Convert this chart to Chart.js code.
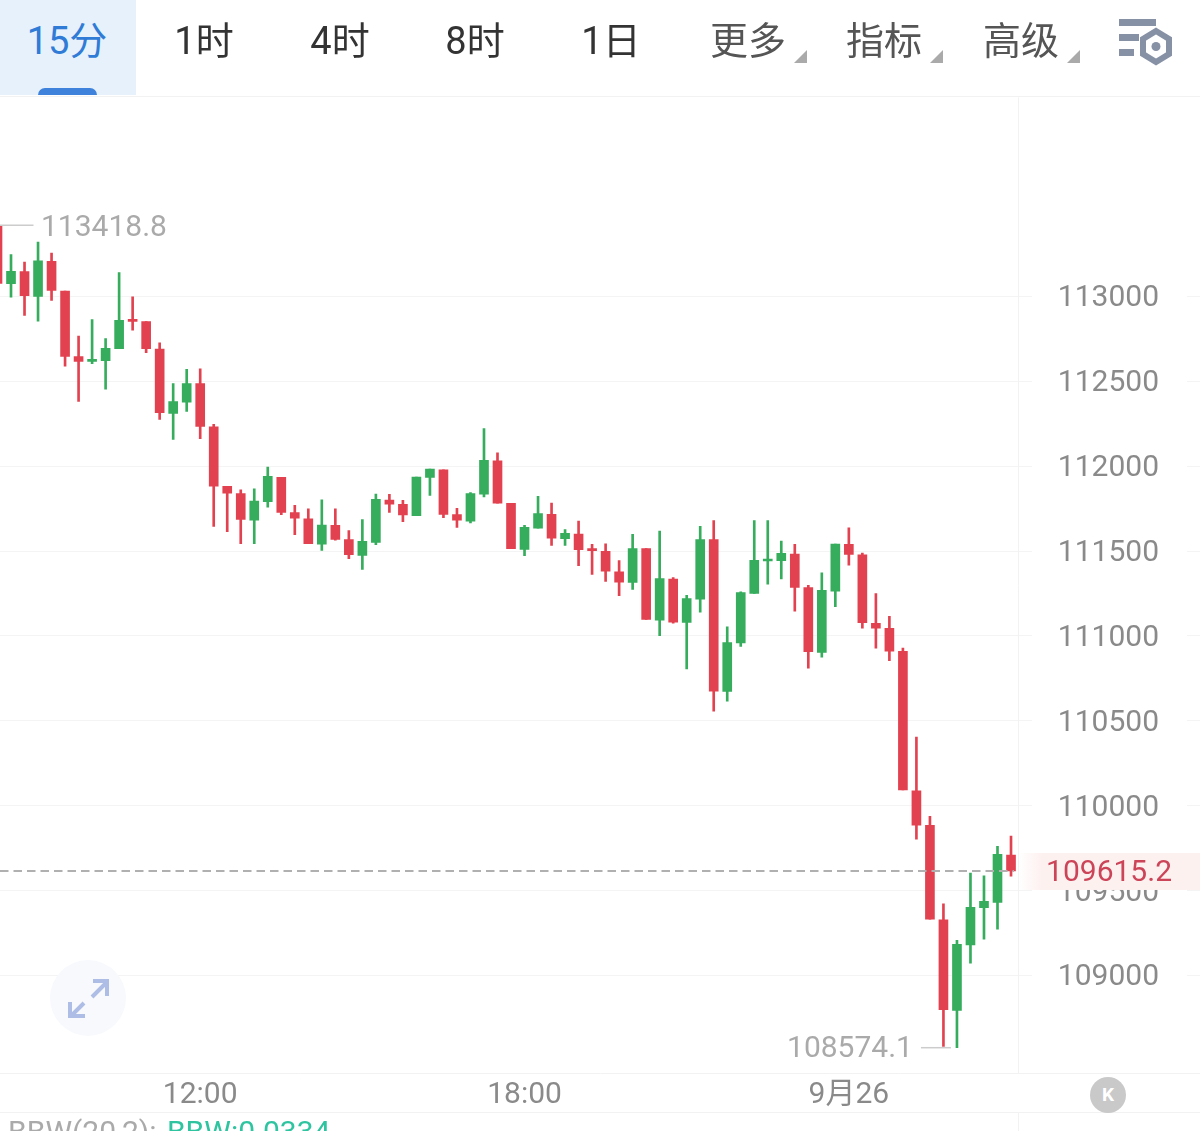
<!DOCTYPE html>
<html>
<head>
<meta charset="utf-8">
<script src="https://cdn.jsdelivr.net/npm/chart.js@4/dist/chart.umd.min.js"></script>
<style>
html, body { margin: 0; padding: 0; background: #fff; }
body { width: 1200px; height: 1131px; overflow: hidden; position: relative; font-family: Roboto, "Noto Sans CJK SC", sans-serif; }
canvas { position: absolute; left: 0; top: 0; }
.tab { position: absolute; top: 15px; height: 52px; line-height: 52px; font-size: 38px; transform: translateX(-50%); white-space: nowrap; color: #333; }
.grey { color: #555; }
.on { color: #2f7bd6; }
.tabbg { position: absolute; left: 0; top: 0; width: 136px; height: 95px; background: #e6f1fc; }
.bar { position: absolute; left: 38px; top: 88px; width: 59px; height: 7px; background: #3f82dc; border-radius: 7px 7px 0 0; }
.tri { position: absolute; top: 50px; width: 0; height: 0; border-left: 13px solid transparent; border-bottom: 13px solid #aaa; }
.line { position: absolute; left: 0; width: 1200px; height: 1px; background: #f2f2f2; }
svg { position: absolute; }
.legend { position: absolute; left: 8px; top: 1114px; font-size: 30px; line-height: 36px; color: #aaa; white-space: nowrap; }
.legend span { color: #2ec4a0; margin-left: 3px; }
.kbtn { position: absolute; left: 1090px; top: 1077px; width: 36px; height: 36px; border-radius: 18px; background: #c9c9c9; color: #fff; font-weight: bold; font-size: 19px; line-height: 36px; text-align: center; }
</style>
</head>
<body>
<canvas id="kline" width="1200" height="1131"></canvas>
<div class="tabbg"></div>
<div class="bar"></div>
<div class="tab on" style="left:67px">15分</div>
<div class="tab" style="left:204px">1时</div>
<div class="tab" style="left:340px">4时</div>
<div class="tab" style="left:475px">8时</div>
<div class="tab" style="left:611px">1日</div>
<div class="tab grey" style="left:748px">更多</div>
<div class="tri" style="left:794px"></div>
<div class="tab grey" style="left:884px">指标</div>
<div class="tri" style="left:930px"></div>
<div class="tab grey" style="left:1021px">高级</div>
<div class="tri" style="left:1067px"></div>
<svg style="left:1110px;top:10px" width="70" height="60" viewBox="0 0 70 60">
	<rect x="9" y="9" width="37" height="7" fill="#8791a5"/>
	<rect x="9" y="24" width="20" height="7" fill="#8791a5"/>
	<rect x="9" y="39" width="15" height="7" fill="#8791a5"/>
	<polygon points="46,21 59,29 59,44 46,52 33,44 33,29" fill="none" stroke="#8791a5" stroke-width="6"/>
	<circle cx="46" cy="36.5" r="4.5" fill="#8791a5"/>
</svg>
<svg style="left:48px;top:958px" width="80" height="80" viewBox="0 0 80 80">
	<circle cx="40" cy="40" r="38" fill="#f7f9fd"/>
	<path d="M44 39 L58 25 M45 23 L59 23 L59 38 M36 45 L23 58 M22 44 L22 58 L37 58" fill="none" stroke="#aebde6" stroke-width="4"/>
</svg>
<div class="line" style="top:96px"></div>
<div class="line" style="top:1112px"></div>
<div class="kbtn">K</div>
<div class="legend">BBW(20,2): <span>BBW:0.0334</span></div>
<script>
var xTickPos = [15, 39, 63]
var xTickLabels = ['12:00', '18:00', '9月26']
var yTicks = [109000, 109500, 110000, 110500, 111000, 111500, 112000, 112500, 113000]

var openVals = [
	113419, 113075, 113146, 113000, 113206, 113031, 112645, 112617, 112621, 112692,
	112859, 112851, 112690, 112311, 112377, 112486, 112232, 111881, 111838, 111682,
	111791, 111934, 111726, 111690, 111541, 111651, 111567, 111474, 111551, 111800,
	111775, 111708, 111934, 111979, 111714, 111676, 111835, 112032, 111781, 111510,
	111635, 111716, 111573, 111600, 111510, 111498, 111378, 111315, 111515, 111093,
	111335, 111080, 111217, 111567, 110673, 110958, 111250, 111441, 111443, 111482,
	111284, 110903, 111264, 111539, 111478, 111074, 111044, 110909, 110088, 109884,
	109328, 108794, 109179, 109399, 109430, 109709
]
var closeVals = [
	113077, 113147, 113004, 113210, 113035, 112647, 112617, 112627, 112694, 112859,
	112853, 112692, 112315, 112381, 112487, 112234, 111882, 111841, 111686, 111794,
	111940, 111728, 111694, 111543, 111653, 111568, 111478, 111557, 111804, 111776,
	111712, 111936, 111983, 111716, 111682, 111838, 112034, 111782, 111514, 111639,
	111720, 111576, 111604, 111508, 111502, 111382, 111317, 111515, 111097, 111337,
	111081, 111220, 111568, 110675, 110960, 111255, 111445, 111449, 111486, 111286,
	110907, 111268, 111541, 111480, 111078, 111046, 110910, 110092, 109885, 109332,
	108798, 109183, 109401, 109436, 109713, 109615.2
]
var highVals = [
	113418.8, 113247, 113202, 113320, 113255, 113031, 112766, 112863, 112751, 113140,
	112998, 112851, 112727, 112487, 112570, 112574, 112246, 111881, 111861, 111867,
	111994, 111934, 111769, 111749, 111802, 111749, 111620, 111685, 111835, 111834,
	111798, 111936, 111983, 111979, 111751, 111844, 112221, 112079, 111781, 111651,
	111822, 111782, 111627, 111676, 111539, 111543, 111443, 111598, 111515, 111617,
	111343, 111239, 111645, 111680, 111054, 111260, 111680, 111680, 111558, 111539,
	111298, 111372, 111541, 111637, 111488, 111249, 111115, 110928, 110404, 109937,
	109422, 109206, 109603, 109587, 109760, 109821
]
var lowVals = [
	113077, 112996, 112888, 112854, 112976, 112589, 112381, 112604, 112454, 112692,
	112801, 112668, 112275, 112158, 112323, 112162, 111645, 111614, 111543, 111543,
	111759, 111714, 111596, 111543, 111504, 111564, 111455, 111392, 111537, 111728,
	111673, 111708, 111828, 111696, 111639, 111665, 111818, 111782, 111514, 111472,
	111635, 111533, 111533, 111414, 111362, 111321, 111237, 111274, 111097, 111001,
	111075, 110806, 111140, 110557, 110616, 110938, 111250, 111305, 111335, 111146,
	110810, 110875, 111172, 111417, 111046, 110928, 110854, 110092, 109803, 109332,
	108582, 108574.1, 109072, 109214, 109273, 109585
]
var lastPrice = 109615.2
var maxPrice = 113418.8
var minPrice = 108574.1

var RED = '#e2424f'
var GREEN = '#35ad5c'

function candleColor(ctx) {
	var i = ctx.dataIndex
	return closeVals[i] >= openVals[i] ? GREEN : RED
}

function getRange(a, b) {
	var r = []
	for (var i = 0; i < a.length; i++) {
		r.push({x: i, y: [a[i], b[i]]})
	}
	return r
}

// last price line, its band, the high/low notes and the divider right of the plot
var overlay = {
	id: 'overlay',
	afterDatasetsDraw: function(chart) {
		var c = chart.ctx
		var x = chart.scales.x
		var y = chart.scales.y
		var divX = 1018
		c.save()

		c.strokeStyle = '#f2f2f2'
		c.lineWidth = 1
		c.beginPath()
		c.moveTo(divX + 0.5, chart.chartArea.top)
		c.lineTo(divX + 0.5, chart.chartArea.bottom)
		c.moveTo(divX + 0.5, 1112)
		c.lineTo(divX + 0.5, 1131)
		c.stroke()

		var ly = y.getPixelForValue(lastPrice)
		var band = c.createLinearGradient(divX, 0, divX + 24, 0)
		band.addColorStop(0, '#ffffff')
		band.addColorStop(1, '#fdf1f0')
		c.fillStyle = band
		c.fillRect(divX + 1, ly - 18, 181, 37)

		c.strokeStyle = '#b0b0b0'
		c.lineWidth = 2
		c.setLineDash([8.5, 5])
		c.beginPath()
		c.moveTo(0, ly)
		c.lineTo(divX - 4, ly)
		c.stroke()
		c.setLineDash([])

		c.font = '30px Roboto'
		c.textBaseline = 'middle'
		c.fillStyle = '#cc4458'
		c.textAlign = 'right'
		c.fillText(lastPrice.toFixed(1), 1172, ly + 3)

		c.fillStyle = '#aaaaaa'
		c.strokeStyle = '#cccccc'
		c.lineWidth = 1.5
		var hy = y.getPixelForValue(maxPrice)
		c.beginPath()
		c.moveTo(x.getPixelForValue(0), hy)
		c.lineTo(x.getPixelForValue(0) + 36, hy)
		c.stroke()
		c.textAlign = 'left'
		c.fillText(maxPrice.toFixed(1), 41, hy + 3)

		var my = y.getPixelForValue(minPrice)
		c.beginPath()
		c.moveTo(x.getPixelForValue(71) - 36, my)
		c.lineTo(x.getPixelForValue(71) - 6, my)
		c.stroke()
		c.textAlign = 'right'
		c.fillText(minPrice.toFixed(1), x.getPixelForValue(71) - 44, my + 2)
		c.restore()
	}
}

var chart = new Chart(document.getElementById('kline').getContext('2d'), {
	type: 'bar',
	data: {
		datasets: [{
			data: getRange(openVals, closeVals),
			backgroundColor: candleColor,
			barThickness: 9,
			minBarLength: 2,
			grouped: false
		}, {
			data: getRange(lowVals, highVals),
			backgroundColor: candleColor,
			barThickness: 2,
			grouped: false
		}]
	},
	options: {
		responsive: false,
		animation: false,
		devicePixelRatio: 1,
		layout: {padding: {left: 0, right: 0, top: 97.4, bottom: 18.6}},
		plugins: {legend: {display: false}, tooltip: {enabled: false}},
		scales: {
			x: {
				type: 'linear',
				offset: false,
				min: 0.185,
				max: 88.985,
				afterBuildTicks: function(s) {
					s.ticks = xTickPos.map(function(v) { return {value: v} })
				},
				afterFit: function(s) { s.height = 39 },
				grid: {display: false},
				border: {color: '#f2f2f2'},
				ticks: {
					autoSkip: false,
					maxRotation: 0,
					padding: -4,
					color: '#8a8a8a',
					font: {family: 'Roboto, "Noto Sans CJK SC"', size: 30},
					callback: function(v) { return xTickLabels[xTickPos.indexOf(v)] }
				}
			},
			y: {
				position: 'right',
				min: 108422.7,
				max: 114172.3,
				afterBuildTicks: function(s) {
					s.ticks = yTicks.map(function(v) { return {value: v} })
				},
				afterFit: function(s) { s.width = 0 },
				border: {display: false},
				grid: {color: '#f4f4f4', drawTicks: false},
				ticks: {
					mirror: true,
					padding: -41,
					labelOffset: 2.5,
					color: '#8a8a8a',
					font: {family: 'Roboto', size: 30},
					showLabelBackdrop: true,
					backdropColor: '#ffffff',
					backdropPadding: {left: 26, right: 28, top: 0, bottom: 0},
					callback: function(v) { return String(v) }
				}
			}
		}
	},
	plugins: [overlay]
})
</script>
</body>
</html>
